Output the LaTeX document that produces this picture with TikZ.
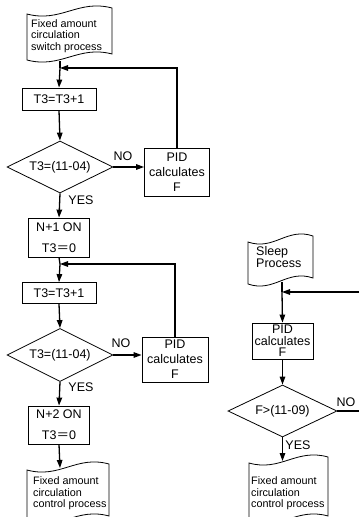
\documentclass[tikz,border=0pt]{standalone}
\usepackage{fontspec}
\setmainfont{Liberation Sans}
\newfontfamily\cjk{Noto Sans CJK SC}
\usetikzlibrary{shapes.geometric,arrows.meta,calc}
\newcommand{\myfontmain}{\fontsize{12.5}{15}\selectfont}
\newcommand{\myfontdoc}{\fontsize{10.8}{11.7}\selectfont}
\newcommand{\flagdoc}[6]{% L R Tl Tr Bl Br
  \draw[docline] (#1,#3) .. controls ({#1+0.4*(#2-#1)},{#3+9}) and ({#1+0.6*(#2-#1)},{#4-9}) .. (#2,#4)
    -- (#2,#6) .. controls ({#1+0.6*(#2-#1)},{#6-9}) and ({#1+0.4*(#2-#1)},{#5+9}) .. (#1,#5) -- cycle;}
\begin{document}
\begin{tikzpicture}[x=1pt,y=-1pt,
  docline/.style={line width=0.8pt},
  procbox/.style={draw,line width=0.8pt,inner sep=0pt,align=center,font=\myfontmain},
  decision/.style={draw,diamond,aspect=2,inner sep=0pt,line width=0.8pt,font=\myfontmain},
  doctext/.style={anchor=west,align=left,inner sep=0pt,font=\myfontdoc},
  lbl/.style={inner sep=0pt,font=\myfontmain},
  conn/.style={line width=1.3pt},
  arr/.style={conn,-{Triangle[length=8pt,width=5.5pt]}}]
\path[use as bounding box] (0,0) rectangle (359,517);
\clip (0,0) rectangle (359,517);

% ---------- left column ----------
\flagdoc{27}{112}{14}{8}{60}{54}
\node[doctext] (t1) at (31,36) {Fixed amount\\circulation\\switch process};
\coordinate (d1b) at (60,61);
\coordinate (j1) at (60,68);

\node[procbox,minimum width=74,minimum height=22] (b1) at (59,99) {T3=T3+1};
\node[decision,minimum width=106,minimum height=52] (dia1) at (60,167) {T3=(11-04)};
\node[procbox,minimum width=65,minimum height=48] (pid1) at (177,172) {PID\\calculates\\F};
\node[lbl] (no1) at (123,156) {NO};
\node[lbl] (yes1) at (81,200) {YES};
\node[procbox,minimum width=61,minimum height=39] (n1) at (59,237.5) {N+1 ON\\[6pt]T3{\cjk ＝}0};

\draw[conn] (d1b) -- (j1);
\draw[arr] (j1) -- (b1.north);
\draw[arr] (b1.south) -- (dia1.north);
\draw[arr] (dia1.east) -- (dia1.east -| pid1.west);
\draw[arr] (pid1.north) |- (j1);
\draw[arr] (dia1.south) -- (n1.north);

\coordinate (j2) at (60,264);
\node[procbox,minimum width=74,minimum height=21] (b2) at (59,293) {T3=T3+1};
\node[decision,minimum width=106,minimum height=53] (dia2) at (60,355) {T3=(11-04)};
\node[procbox,minimum width=66,minimum height=45] (pid2) at (175,359.5) {PID\\calculates\\F};
\node[lbl] (no2) at (121,343) {NO};
\node[lbl] (yes2) at (81,387) {YES};
\node[procbox,minimum width=61,minimum height=38] (n2) at (59,425) {N+2 ON\\[6pt]T3{\cjk ＝}0};

\draw[conn] (n1.south) -- (j2);
\draw[arr] (j2) -- (b2.north);
\draw[arr] (b2.south) -- (dia2.north);
\draw[arr] (dia2.east) -- (dia2.east -| pid2.west);
\draw[arr] (pid2.north) |- (j2);
\draw[arr] (dia2.south) -- (n2.north);

\flagdoc{27}{109}{470}{464}{522}{516}
\node[doctext] (t2) at (33,493.5) {Fixed amount\\circulation\\control process};
\coordinate (d2t) at (60,468);
\draw[arr] (n2.south) -- (d2t);

% ---------- right column ----------
\flagdoc{248}{313}{242}{236}{284}{278}
\node[doctext,font=\fontsize{12.5}{12}\selectfont] (t3) at (256,257.5) {Sleep\\Process};
\coordinate (s1b) at (282,282);
\coordinate (j3) at (282,292);
\coordinate (e3) at (359,292);
\node[procbox,minimum width=61,minimum height=36,font=\fontsize{12.5}{11.5}\selectfont] (pid3) at (282.5,341) {PID\\calculates\\F};
\node[decision,minimum width=109,minimum height=52] (dia3) at (282.5,411) {F>(11-09)};
\coordinate (e4) at (359,411);
\node[lbl] (no3) at (346,402) {NO};
\node[lbl] (yes3) at (298,445) {YES};

\draw[conn] (s1b) -- (j3);
\draw[arr] (j3) -- (pid3.north);
\draw[arr] (e3) -- (j3);
\draw[arr] (pid3.south) -- (dia3.north);
\draw[conn] (dia3.east) -- (e4);

\flagdoc{249}{328}{463}{457}{522}{516}
\node[doctext] (t4) at (251,493.5) {Fixed amount\\circulation\\control process};
\coordinate (d4t) at (282.5,461);
\draw[arr] (dia3.south) -- (d4t);
\end{tikzpicture}
\end{document}
